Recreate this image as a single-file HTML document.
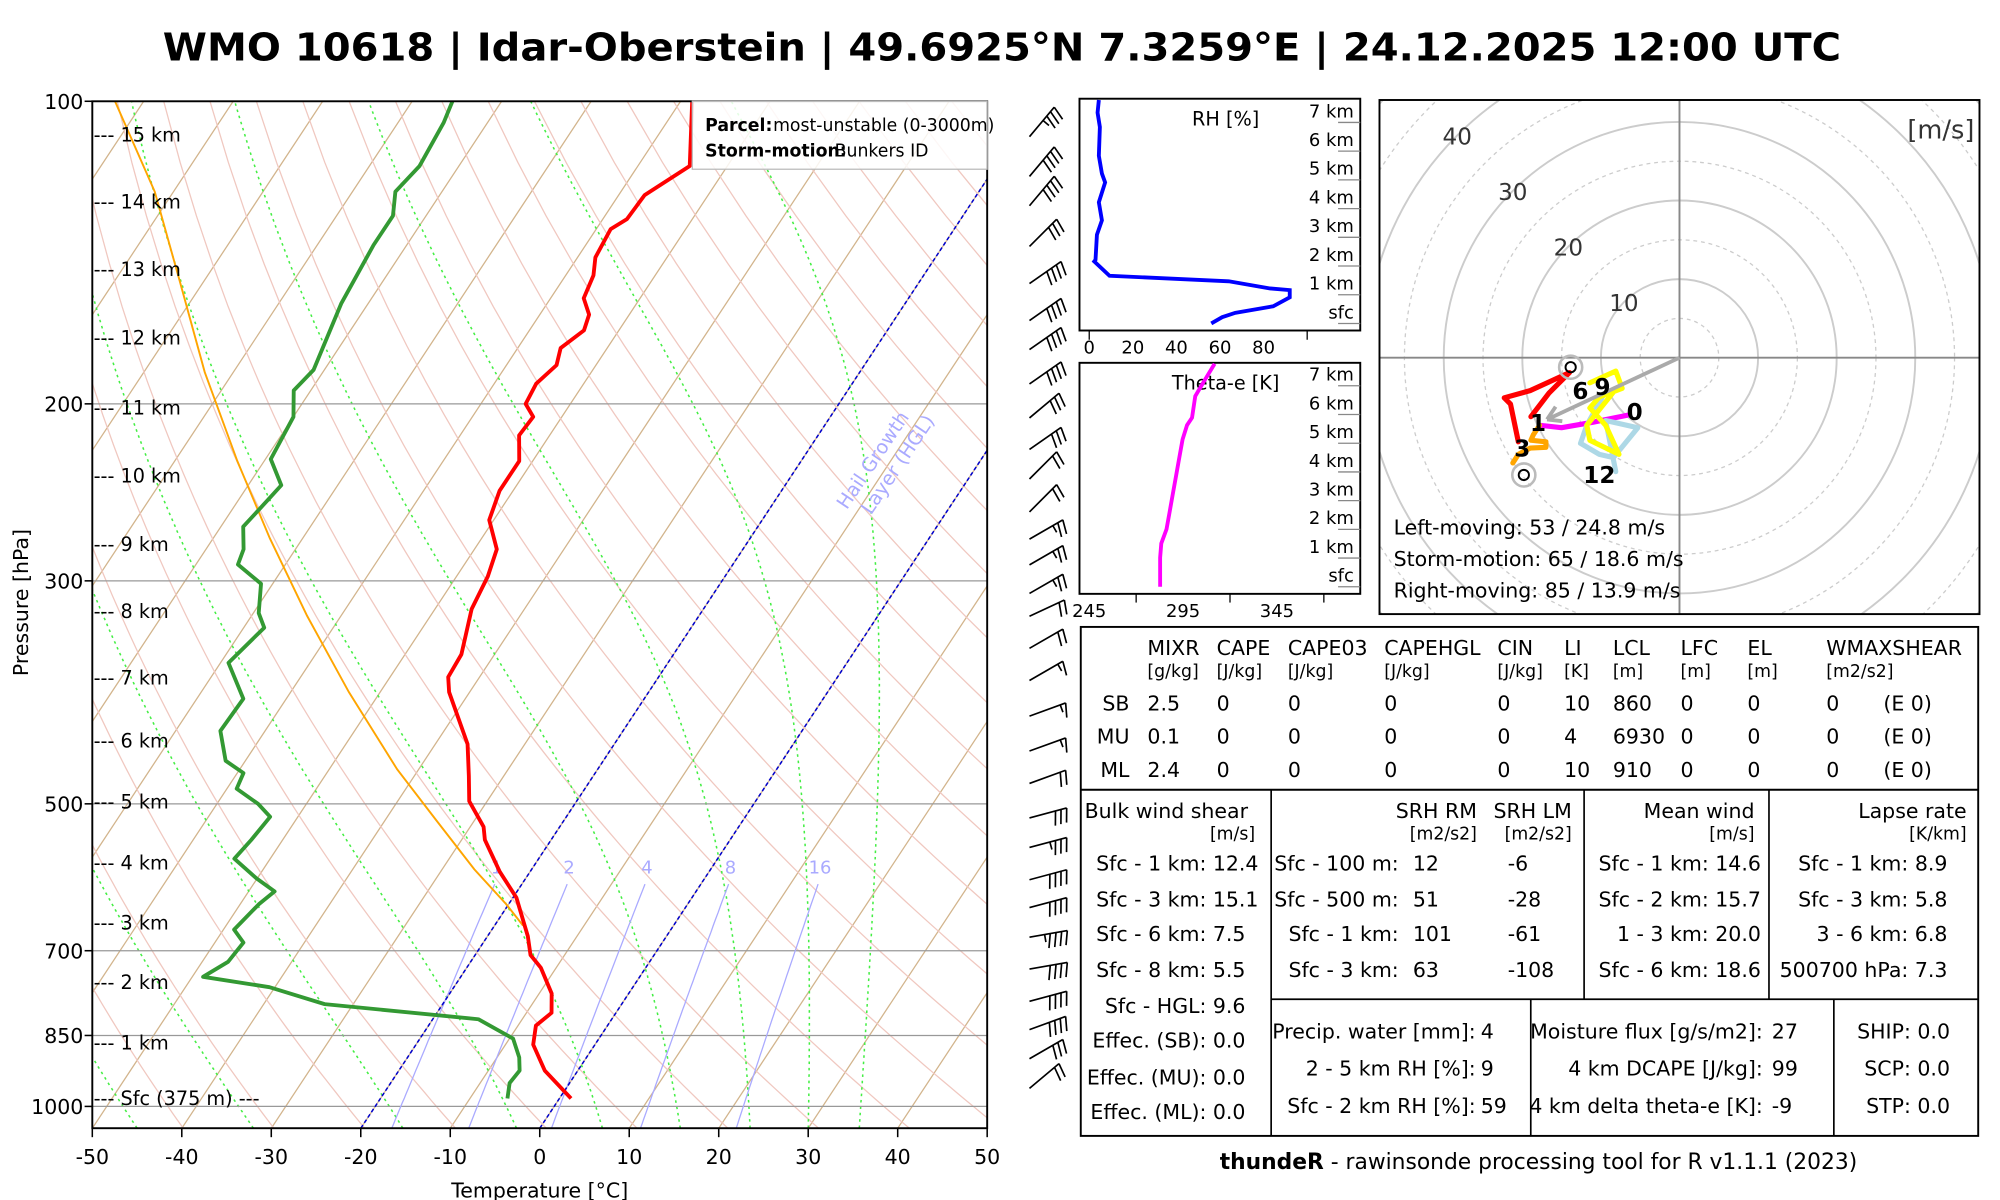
<!DOCTYPE html>
<html><head><meta charset="utf-8"><style>
html,body{margin:0;padding:0;background:#fff;}
svg{display:block;}
text{font-family:"DejaVu Sans","Liberation Sans",sans-serif;}
</style></head><body>
<svg id="s" width="2000" height="1200" viewBox="0 0 1560 936" preserveAspectRatio="none" xmlns="http://www.w3.org/2000/svg">
<defs>
<clipPath id="cSk"><rect x="72" y="79" width="698" height="801"/></clipPath>
<clipPath id="cHo"><rect x="1076" y="78" width="468" height="401"/></clipPath>
<clipPath id="cRh"><rect x="842" y="77" width="219" height="180"/></clipPath>
<clipPath id="cTh"><rect x="842" y="283" width="219" height="182"/></clipPath>
</defs>
<rect x="0" y="0" width="1560" height="936" fill="#fff"/>
<text x="127" y="47" font-size="30" font-weight="bold" textLength="1309" lengthAdjust="spacingAndGlyphs">WMO 10618 | Idar-Oberstein | 49.6925°N 7.3259°E | 24.12.2025 12:00 UTC</text>

<g id="skBg" clip-path="url(#cSk)"></g>
<g id="skData" clip-path="url(#cSk)"></g>
<g id="skAxes"></g>

<g>
<rect x="540" y="79" width="230" height="53" fill="#fff" fill-opacity="0.85" stroke="#bbb" stroke-width="1"/>
<text x="603" y="102" font-size="13.5">most-unstable (0-3000m)</text>
<text x="550" y="102" font-size="13.5" font-weight="bold">Parcel:</text>
<text x="651" y="122" font-size="13.5">Bunkers ID</text>
<text x="550" y="122" font-size="13.5" font-weight="bold">Storm-motion:</text>
</g>
<g fill="#aaaaff" font-size="15" transform="translate(690,365) rotate(-56)">
<text x="0" y="-6" text-anchor="middle">Hail Growth</text>
<text x="8" y="12" text-anchor="middle">Layer (HGL)</text>
</g>

<g id="barbs" stroke="#000" stroke-width="1.3" fill="none"></g>

<g id="rhPanel"></g>
<g id="thPanel"></g>
<g id="hodo"></g>

<g font-size="16">
<rect x="843" y="489" width="700" height="397" fill="none" stroke="#000" stroke-width="1.5"/>
<line x1="843" y1="616" x2="1543" y2="616" stroke="#000" stroke-width="1.5"/>
<line x1="991.5" y1="616" x2="991.5" y2="886" stroke="#000" stroke-width="1.3"/>
<line x1="1235.6" y1="616" x2="1235.6" y2="779.4" stroke="#000" stroke-width="1.3"/>
<line x1="1379.8" y1="616" x2="1379.8" y2="779.4" stroke="#000" stroke-width="1.3"/>
<line x1="991.5" y1="779.4" x2="1543" y2="779.4" stroke="#000" stroke-width="1.3"/>
<line x1="1194" y1="779.4" x2="1194" y2="886" stroke="#000" stroke-width="1.3"/>
<line x1="1430.4" y1="779.4" x2="1430.4" y2="886" stroke="#000" stroke-width="1.3"/>
<g>
<text x="895" y="511">MIXR</text><text x="949" y="511">CAPE</text><text x="1004.5" y="511">CAPE03</text><text x="1079.7" y="511">CAPEHGL</text><text x="1168" y="511">CIN</text><text x="1220" y="511">LI</text><text x="1258" y="511">LCL</text><text x="1310.8" y="511">LFC</text><text x="1363" y="511">EL</text><text x="1424.5" y="511">WMAXSHEAR</text>
<g font-size="13.5"><text x="895" y="528">[g/kg]</text><text x="949" y="528">[J/kg]</text><text x="1004.5" y="528">[J/kg]</text><text x="1079.7" y="528">[J/kg]</text><text x="1168" y="528">[J/kg]</text><text x="1220" y="528">[K]</text><text x="1258" y="528">[m]</text><text x="1310.8" y="528">[m]</text><text x="1363" y="528">[m]</text><text x="1424.5" y="528">[m2/s2]</text></g>
</g>
<g><text x="881" y="554" text-anchor="end">SB</text><text x="895" y="554">2.5</text><text x="949" y="554">0</text><text x="1004.5" y="554">0</text><text x="1079.7" y="554">0</text><text x="1168" y="554">0</text><text x="1220" y="554">10</text><text x="1258" y="554">860</text><text x="1310.8" y="554">0</text><text x="1363" y="554">0</text><text x="1424.5" y="554">0</text><text x="1469" y="554">(E 0)</text></g>
<g><text x="881" y="580" text-anchor="end">MU</text><text x="895" y="580">0.1</text><text x="949" y="580">0</text><text x="1004.5" y="580">0</text><text x="1079.7" y="580">0</text><text x="1168" y="580">0</text><text x="1220" y="580">4</text><text x="1258" y="580">6930</text><text x="1310.8" y="580">0</text><text x="1363" y="580">0</text><text x="1424.5" y="580">0</text><text x="1469" y="580">(E 0)</text></g>
<g><text x="881" y="606" text-anchor="end">ML</text><text x="895" y="606">2.4</text><text x="949" y="606">0</text><text x="1004.5" y="606">0</text><text x="1079.7" y="606">0</text><text x="1168" y="606">0</text><text x="1220" y="606">10</text><text x="1258" y="606">910</text><text x="1310.8" y="606">0</text><text x="1363" y="606">0</text><text x="1424.5" y="606">0</text><text x="1469" y="606">(E 0)</text></g>
<g>
<text x="846" y="638">Bulk wind shear</text><text x="979" y="655" text-anchor="end" font-size="13.5">[m/s]</text>
<g text-anchor="end"><text x="941" y="679">Sfc - 1 km:</text><text x="941" y="707">Sfc - 3 km:</text><text x="941" y="734">Sfc - 6 km:</text><text x="941" y="762">Sfc - 8 km:</text><text x="941" y="790">Sfc - HGL:</text><text x="941" y="817">Effec. (SB):</text><text x="941" y="846">Effec. (MU):</text><text x="941" y="873">Effec. (ML):</text></g>
<text x="946" y="679">12.4</text><text x="946" y="707">15.1</text><text x="946" y="734">7.5</text><text x="946" y="762">5.5</text><text x="946" y="790">9.6</text><text x="946" y="817">0.0</text><text x="946" y="846">0.0</text><text x="946" y="873">0.0</text>
</g>
<g>
<text x="1152" y="638" text-anchor="end">SRH RM</text><text x="1226" y="638" text-anchor="end">SRH LM</text>
<text x="1152" y="655" text-anchor="end" font-size="13.5">[m2/s2]</text><text x="1226" y="655" text-anchor="end" font-size="13.5">[m2/s2]</text>
<g text-anchor="end"><text x="1091" y="679">Sfc - 100 m:</text><text x="1091" y="707">Sfc - 500 m:</text><text x="1091" y="734">Sfc - 1 km:</text><text x="1091" y="762">Sfc - 3 km:</text></g>
<text x="1102" y="679">12</text><text x="1102" y="707">51</text><text x="1102" y="734">101</text><text x="1102" y="762">63</text>
<text x="1176" y="679">-6</text><text x="1176" y="707">-28</text><text x="1176" y="734">-61</text><text x="1176" y="762">-108</text>
</g>
<g text-anchor="end">
<text x="1368.5" y="638">Mean wind</text><text x="1368.5" y="655" font-size="13.5">[m/s]</text>
<text x="1373.5" y="679">Sfc - 1 km: 14.6</text><text x="1373.5" y="707">Sfc - 2 km: 15.7</text><text x="1373.5" y="734">1 - 3 km: 20.0</text><text x="1373.5" y="762">Sfc - 6 km: 18.6</text>
</g>
<g text-anchor="end">
<text x="1534" y="638">Lapse rate</text><text x="1534" y="655" font-size="13.5">[K/km]</text>
<text x="1519" y="679">Sfc - 1 km: 8.9</text><text x="1519" y="707">Sfc - 3 km: 5.8</text><text x="1519" y="734">3 - 6 km: 6.8</text><text x="1519" y="762">500700 hPa: 7.3</text>
</g>
<g>
<g text-anchor="end"><text x="1151" y="810">Precip. water [mm]:</text><text x="1151" y="839">2 - 5 km RH [%]:</text><text x="1151" y="868">Sfc - 2 km RH [%]:</text></g>
<text x="1155" y="810">4</text><text x="1155" y="839">9</text><text x="1155" y="868">59</text>
<g text-anchor="end"><text x="1375" y="810">Moisture flux [g/s/m2]:</text><text x="1375" y="839">4 km DCAPE [J/kg]:</text><text x="1375" y="868">4 km delta theta-e [K]:</text></g>
<text x="1382" y="810">27</text><text x="1382" y="839">99</text><text x="1382" y="868">-9</text>
</g>
<g text-anchor="end">
<text x="1521" y="810">SHIP: 0.0</text><text x="1521" y="839">SCP: 0.0</text><text x="1521" y="868">STP: 0.0</text>
</g>
</g>
<text x="1200" y="912" text-anchor="middle" font-size="17"><tspan font-weight="bold">thundeR</tspan> - rawinsonde processing tool for R v1.1.1 (2023)</text>

<script>
// ===== Skew-T data =====
const tempP=[982,921,868,831,807,772,728,707,677,620,584,543,527,497,469,436,387,374,355,320,297,279,261,244,235,228,215,206,200,191,183,176,169,163,157,149,143,134,131,124,116,100];
const tempT=[1.3,-3.7,-6.9,-8.0,-7.2,-8.6,-11.7,-13.8,-15.5,-19.6,-23.4,-27.4,-28.5,-32,-33.9,-36.4,-42.3,-43.5,-43.7,-45.9,-46.5,-47.5,-50.5,-51.5,-51.5,-51.5,-53.4,-53.2,-55,-55.3,-54.4,-55.2,-53.9,-54.5,-56.3,-56.9,-58,-58.4,-57.3,-57.1,-54.2,-58.7];
const dewP=[982,948,921,894,856,819,791,761,743,718,687,667,629,611,593,567,543,515,500,483,466,453,423,393,362,334,323,302,289,279,265,249,241,227,206,194,185,159,139,130,123,116,105,100];
const dewT=[-5.8,-6.7,-6.5,-7.5,-9.6,-14.9,-33.2,-40.6,-48.8,-47.1,-46.8,-48.8,-47.9,-47.1,-50.1,-54,-53.5,-53.1,-55.4,-58.9,-59.3,-62.2,-65,-64.8,-69.1,-67.7,-69.4,-71.3,-75.3,-75.8,-77.5,-76.7,-76.3,-79.4,-80,-81.9,-81.2,-83,-83.7,-83.7,-85.2,-84.4,-84.9,-85.5];
const parcelP=[661,629,581,519,462,387,325,272,228,186,151,123,100];
const parcelT=[-16.8,-20.3,-26.4,-34.3,-42.4,-53.5,-63.8,-73.7,-83,-93.2,-102.7,-112.1,-123.2];
const tempTicks=[-50,-40,-30,-20,-10,0,10,20,30,40,50];
const presTicks=[100,200,300,500,700,850,1000];
const heightLabels=["--- 15 km","--- 14 km","--- 13 km","--- 12 km","--- 11 km","--- 10 km","--- 9 km","--- 8 km","--- 7 km","--- 6 km","--- 5 km","--- 4 km","--- 3 km","--- 2 km","--- 1 km","--- Sfc (375 m) ---"];
const heightLabelP=[108,126,147,172,202,236,276,322,375,433,498,573,657,753,865,982];
const mixRatios=[1,2,4,8,16];
const dryThetas=[230,240,250,260,270,280,290,300,310,320,330,340,350,360,370,380,390,400,410,420,430,440,450,460,470,480,490,500,520,540,560];
const moistStartT=[-45,-32,-15.3,-2.6,7,15.7,23.5,30,35.7];
// wind barbs
const barbP=[105,115,123,135,147,160,171,185,200,215,230,248,264,280,299,315,339,365,396,429,462,500,535,576,614,657,707,761,812,868,929];
const barbDir=[40,40,40,45,55,55,55,55,50,55,45,45,60,60,60,65,60,60,70,70,70,75,75,75,75,80,80,75,70,60,50];
const barbKt=[35,40,40,30,40,40,40,40,30,30,20,20,25,25,25,20,20,15,15,15,20,30,35,40,40,45,40,40,40,30,20];
// RH & theta-e
const rhH=[0,0.22,0.37,0.6,0.91,1.16,1.22,1.47,1.66,2.16,2.22,3.09,3.59,4.22,4.91,5.22,5.84,6.84,7.34,7.78];
const rhV=[56,61,67,84.4,92,92,83,64,9.3,2.3,2.9,3.5,5.8,4.4,7.3,5.8,4.4,4.9,3.8,4.4];
const rhTicks=[0,20,40,60,80];
const thH=[0,1.02,1.51,2.01,2.63,3.26,3.88,4.51,5.13,5.63,5.89,6.64,7.14,7.77];
const thV=[282.8,282.8,283.4,286.2,287.9,289.6,291.3,293,294.7,297.1,299.8,301.5,306,311.8];
const thTicks=[245,295,345];
const kmLabels=["sfc","1 km","2 km","3 km","4 km","5 km","6 km","7 km"];
// hodograph
const hodoMagU=[-6.5,-11,-15,-17.8], hodoMagV=[-7.3,-8.2,-8.9,-8.6];
const hodoOrU=[-17.8,-18.6,-18.9,-17,-17,-19,-20.5,-21.2], hodoOrV=[-8.6,-9.8,-10.5,-10.7,-11.4,-11.5,-12.3,-13.4];
const hodoRedU=[-20.5,-21.5,-22.3,-19,-14,-16.6,-18.9], hodoRedV=[-10.7,-5.9,-5.1,-4.2,-1.9,-4.5,-7.5];
const hodoYelU=[-11.4,-8.1,-7.3,-10.2,-11.4,-9.4,-7.7,-11.4,-11.8,-8.5], hodoYelV=[-3.2,-1.7,-3.9,-5,-6.4,-8.6,-12.3,-10.5,-8.6,-4.5];
const hodoBluU=[-9.8,-11.8,-12.6,-10.2,-8.4,-5.3,-9.4,-8.1], hodoBluV=[-5,-8.6,-10.9,-12.3,-12.7,-8.9,-8,-14.5];
const hodoLabelTxt=["0","1","3","6","9","12"];
const hodoLabelU=[-5.7,-18,-20,-12.6,-9.8,-10.2];
const hodoLabelV=[-6.8,-8.2,-11.4,-4.1,-3.6,-14.8];
const stormDir=[53,65,85], stormSpd=[24.8,18.6,13.9];
const ringLabels=[10,20,30,40];

const NS="http://www.w3.org/2000/svg";
function mk(tag,attrs,parent){const e=document.createElementNS(NS,tag);for(const k in attrs)e.setAttribute(k,attrs[k]);parent.appendChild(e);return e;}
const yP=p=>79+784*Math.log10(p/100);
const xT=(T,p)=>72+(T+50)*6.98+(880-yP(p))*0.66;
function path(ps,ts){return ps.map((p,i)=>(i?'L':'M')+xT(ts[i],p).toFixed(1)+','+yP(p).toFixed(1)).join('');}
const bg=document.getElementById('skBg'), dg=document.getElementById('skData'), ax=document.getElementById('skAxes');

// isotherms (brown)
for(let T=-160;T<=50;T+=10){
  const l=mk('line',{x1:xT(T,1051),y1:880,x2:xT(T,95),y2:yP(95),stroke:'#d2b48c','stroke-width':1},bg);
  
  
}
// dry adiabats
for(const th of dryThetas){
  const ps=[],ts=[];for(let p=1060;p>=95;p-=15){ps.push(p);ts.push(th*Math.pow(p/1000,0.2857)-273.15);}
  const e=mk('path',{d:path(ps,ts),fill:'none',stroke:'#f0c8c0','stroke-width':1},bg);
  
  
}
// moist adiabats
function es(Tc){return 6.112*Math.exp(17.67*Tc/(Tc+243.5));}
for(const T0 of moistStartT){
  let T=T0+273.15;const ps=[],ts=[];
  for(let p=1051;p>=100;p-=3){ps.push(p);ts.push(T-273.15);
    const e=es(T-273.15),rs=0.622*e/(p-e);
    const dTdp=(287*T+2.5e6*rs)/(p*(1005+2.5e6*2.5e6*rs*0.622/(287*T*T)));T-=3*dTdp;}
  const e=mk('path',{d:path(ps,ts),fill:'none',stroke:'#44ee44','stroke-width':1.2,'stroke-dasharray':'2,3'},bg);
  
  
}
// pressure grid
for(const p of presTicks){
  const l=mk('line',{x1:72,x2:770,y1:yP(p),y2:yP(p),stroke:'#999','stroke-width':1},bg);
  
  
}
// mixing ratio lines
mixRatios.forEach(w=>{
  const ps=[],ts=[];for(let p=1051;p>=597;p-=10){const e=w*p/(622+w),lg=Math.log(e/6.112);ps.push(p);ts.push(243.5*lg/(17.67-lg));}
  const e=mk('path',{d:path(ps,ts),fill:'none',stroke:'#aaaaff','stroke-width':1},bg);
  
  
  const t=mk('text',{x:xT(ts[ts.length-1],597),y:yP(597)-6,'text-anchor':'middle','font-size':14,fill:'#aaaaff'},bg);
  t.textContent=w;
  
  
});
// HGL isotherms (blue dashed)
[-20,0].forEach(T=>{
  const l=mk('line',{x1:xT(T,1051),y1:880,x2:xT(T,90),y2:yP(90),stroke:'#0000cc','stroke-width':1.2,'stroke-dasharray':'3,2'},bg);
  
  
});
// profiles
const par=mk('path',{d:path(parcelP,parcelT),fill:'none',stroke:'#ffa500','stroke-width':1.5},dg);


const dw=mk('path',{d:path(dewP,dewT),fill:'none',stroke:'#339933','stroke-width':3,'stroke-linejoin':'round'},dg);


const tp=mk('path',{d:path(tempP,tempT),fill:'none',stroke:'#ff0000','stroke-width':3,'stroke-linejoin':'round'},dg);



// axes
const fr=mk('rect',{x:72,y:79,width:698,height:801,fill:'none',stroke:'#000','stroke-width':1.5},ax);


tempTicks.forEach(T=>{
  const x=72+(T+50)*6.98;
  const l=mk('line',{x1:x,x2:x,y1:880,y2:887,stroke:'#000','stroke-width':1.2},ax);
  
  
  const t=mk('text',{x:x,y:908,'text-anchor':'middle','font-size':16},ax);t.textContent=T;
  
  
});
presTicks.forEach(p=>{
  const y=yP(p);
  const l=mk('line',{x1:66,x2:72,y1:y,y2:y,stroke:'#000','stroke-width':1.2},ax);
  
  
  const t=mk('text',{x:65,y:y+6,'text-anchor':'end','font-size':16},ax);t.textContent=p;
  
  
});
heightLabels.forEach((s,i)=>{
  const t=mk('text',{x:73,y:yP(heightLabelP[i])+5,'font-size':15},ax);t.textContent=s;
  
  
});
const xt=mk('text',{x:421,y:934,'text-anchor':'middle','font-size':16},ax);xt.textContent='Temperature [°C]';


const yt=mk('text',{x:0,y:0,'text-anchor':'middle','font-size':16,transform:'translate(22,470) rotate(-90)'},ax);yt.textContent='Pressure [hPa]';



// wind barbs
const bgp=document.getElementById('barbs');
barbP.forEach((p,i)=>{
  const d=barbDir[i]*Math.PI/180,L=30;
  const bx=803,by=yP(p)+11;
  const ux=Math.sin(d),uy=-Math.cos(d);
  const tx=bx+ux*L,ty=by+uy*L;
  let s='M'+bx.toFixed(1)+','+by.toFixed(1)+'L'+tx.toFixed(1)+','+ty.toFixed(1);
  let kt=barbKt[i],k=0;
  const fx=Math.cos(d),fy=Math.sin(d);
  while(kt>=10){const sx=tx-ux*k*4.5,sy=ty-uy*k*4.5;s+='M'+sx.toFixed(1)+','+sy.toFixed(1)+'l'+(fx*11-ux*3).toFixed(1)+','+(fy*11-uy*3).toFixed(1);kt-=10;k++;}
  if(kt>=5){const sx=tx-ux*k*4.5,sy=ty-uy*k*4.5;s+='M'+sx.toFixed(1)+','+sy.toFixed(1)+'l'+(fx*6).toFixed(1)+','+(fy*6).toFixed(1);}
  const e=mk('path',{d:s},bgp);
  
  
});

// RH panel
function sidePanel(g,top,bot,ticks,xOf,hs,vs,color,title,titleX,clip){
  const y0=bot-5.5;
  const r=mk('rect',{x:842,y:top,width:219,height:bot-top,fill:'none',stroke:'#000','stroke-width':1.5},g);
  
  
  kmLabels.forEach((s,k)=>{
    const y=y0-k*22.4;
    const l=mk('line',{x1:1043.7,x2:1061,y1:y,y2:y,stroke:'#888','stroke-width':1},g);
    
    
    const t=mk('text',{x:1056,y:y-4,'text-anchor':'end','font-size':14},g);t.textContent=s;
    
    
  });
  const tt=mk('text',{x:titleX,y:top+21,'text-anchor':'middle','font-size':15},g);tt.textContent=title;
  
  
  ticks.forEach(v=>{
    const t=mk('text',{x:xOf(v),y:bot+18,'text-anchor':'middle','font-size':14},g);t.textContent=v;
    
    
  });
  const d=hs.map((h,i)=>(i?'L':'M')+xOf(vs[i]).toFixed(1)+','+(y0-h*22.4).toFixed(1)).join('');
  const pe=mk('path',{d:d,fill:'none',stroke:color,'stroke-width':3,'clip-path':clip},g);
  
  
}
const rhX=v=>849.6+v*1.7;
sidePanel(document.getElementById('rhPanel'),77,257.8,rhTicks,rhX,rhH,rhV,'#0000ff','RH [%]',956,'url(#cRh)');
[0,100].forEach(v=>{const l=mk('line',{x1:rhX(v),x2:rhX(v),y1:257.8,y2:265,stroke:'#000'},document.getElementById('rhPanel'));

});
const thX=v=>849.6+(v-245)*1.464;
sidePanel(document.getElementById('thPanel'),283,463.2,thTicks,thX,thH,thV,'#ff00ff','Theta-e [K]',956,'url(#cTh)');
[270,320,370].forEach(v=>{const l=mk('line',{x1:thX(v),x2:thX(v),y1:463.2,y2:470,stroke:'#000'},document.getElementById('thPanel'));

});

// Hodograph
const hg=document.getElementById('hodo');
const CX=1310,CY=279,SC=6.13;
const hx=u=>CX+u*SC, hy=v=>CY-v*SC;
const hc=mk('g',{'clip-path':'url(#cHo)'},hg);


for(let r=5;r<=70;r+=5){
  const c=mk('circle',{cx:CX,cy:CY,r:r*SC,fill:'none',stroke:'#cccccc','stroke-width':r%10?1:1.5,'stroke-dasharray':r%10?'3,3':'none'},hc);
  
  
}
const ch1=mk('line',{x1:1076,x2:1544,y1:CY,y2:CY,stroke:'#888','stroke-width':1.5},hc);


const ch2=mk('line',{x1:CX,x2:CX,y1:78,y2:479,stroke:'#888','stroke-width':1.5},hc);


ringLabels.forEach(r=>{
  const t=mk('text',{x:hx(-r*0.7071),y:hy(r*0.7071)+7,'text-anchor':'middle','font-size':18,fill:'#333'},hc);t.textContent=r;
  
  
});
function hseg(us,vs,col){
  const d=us.map((u,i)=>(i?'L':'M')+hx(u).toFixed(1)+','+hy(vs[i]).toFixed(1)).join('');
  const e=mk('path',{d:d,fill:'none',stroke:col,'stroke-width':4,'stroke-linejoin':'round','stroke-linecap':'round'},hc);
  return e;
}
const sMag=hseg(hodoMagU,hodoMagV,'#ff00ff');


const sOr=hseg(hodoOrU,hodoOrV,'#ffa500');


const sBl=hseg(hodoBluU,hodoBluV,'#add8e6');


const sYe=hseg(hodoYelU,hodoYelV,'#ffff00');


const sRe=hseg(hodoRedU,hodoRedV,'#ff0000');


// storm motion
const smU=-stormSpd[1]*Math.sin(stormDir[1]*Math.PI/180), smV=-stormSpd[1]*Math.cos(stormDir[1]*Math.PI/180);
const ar=mk('path',{d:'M'+CX+','+CY+'L'+hx(smU).toFixed(1)+','+hy(smV).toFixed(1),stroke:'#aaaaaa','stroke-width':3,fill:'none'},hc);


const ang=Math.atan2(hy(smV)-CY,hx(smU)-CX);
const ah=mk('path',{d:'M'+hx(smU).toFixed(1)+','+hy(smV).toFixed(1)+'l'+(Math.cos(ang+2.6)*12).toFixed(1)+','+(Math.sin(ang+2.6)*12).toFixed(1)+'M'+hx(smU).toFixed(1)+','+hy(smV).toFixed(1)+'l'+(Math.cos(ang-2.6)*12).toFixed(1)+','+(Math.sin(ang-2.6)*12).toFixed(1),stroke:'#aaaaaa','stroke-width':3,fill:'none'},hc);


[0,2].forEach(k=>{
  const u=-stormSpd[k]*Math.sin(stormDir[k]*Math.PI/180), v=-stormSpd[k]*Math.cos(stormDir[k]*Math.PI/180);
  const c1=mk('circle',{cx:hx(u),cy:hy(v),r:9,fill:'none',stroke:'#bbbbbb','stroke-width':2},hc);
  
  
  const c2=mk('circle',{cx:hx(u),cy:hy(v),r:4,fill:'none',stroke:'#000','stroke-width':1.5},hc);
  
  
});
hodoLabelTxt.forEach((s,i)=>{
  const t=mk('text',{x:hx(hodoLabelU[i]),y:hy(hodoLabelV[i])+7,'text-anchor':'middle','font-size':18,'font-weight':'bold'},hc);t.textContent=s;
  
  
});
const hf=mk('rect',{x:1076,y:78,width:468,height:401,fill:'none',stroke:'#000','stroke-width':1.5},hg);


const mu=mk('text',{x:1540,y:108,'text-anchor':'end','font-size':20,fill:'#333'},hg);mu.textContent='[m/s]';


const smTxt=['Left-moving: '+stormDir[0]+' / '+stormSpd[0]+' m/s','Storm-motion: '+stormDir[1]+' / '+stormSpd[1]+' m/s','Right-moving: '+stormDir[2]+' / '+stormSpd[2]+' m/s'];
smTxt.forEach((s,i)=>{
  const t=mk('text',{x:1087,y:417+i*24.5,'font-size':16},hg);t.textContent=s;
  
  
});
</script>
</svg>
</body></html>
